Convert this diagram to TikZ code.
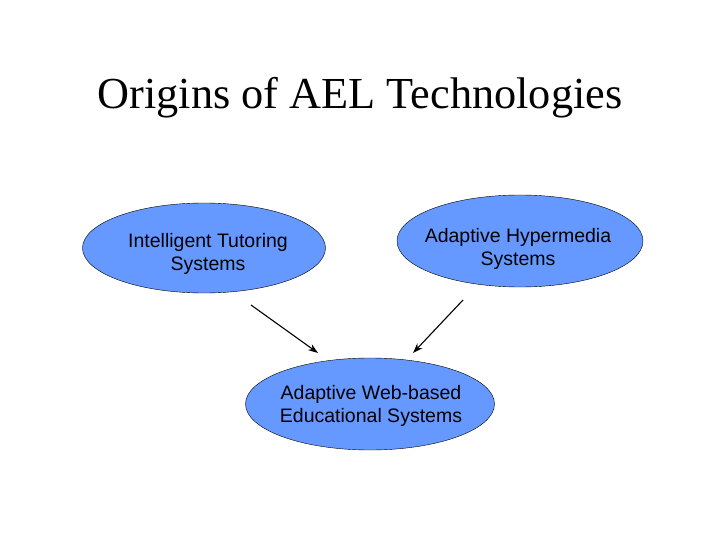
\documentclass[tikz,border=0pt]{standalone}
\usepackage{fontspec}
\setmainfont{Liberation Serif}
\setsansfont{Liberation Sans}
\usetikzlibrary{shapes.geometric,arrows.meta}
\definecolor{ovalblue}{RGB}{102,153,255}

\begin{document}
\begin{tikzpicture}[
    x=1pt, y=-1pt,
    origin/.style={ellipse,draw=black,fill=ovalblue,inner sep=0pt},
    ovaltext/.style={align=center,inner sep=0pt,font=\sffamily\fontsize{19.5}{23}\selectfont},
    trans/.style={line width=1.1pt,->,>={Stealth[length=10pt,width=7pt]}}
    ]
    \useasboundingbox (0,0) rectangle (720,540);
    \node[anchor=base] (title) at (360,109) {\fontsize{44.3}{48}\selectfont Origins of AEL Technologies};
    % the three ovals
    \node[origin,minimum width=243pt,minimum height=90pt] (its) at (204,248) {};
    \node[origin,minimum width=246pt,minimum height=92pt] (ahs) at (520,241) {};
    \node[origin,minimum width=249pt,minimum height=92pt] (awbes) at (370,404) {};
    \node[ovaltext] (itslabel) at (208,254) {Intelligent Tutoring\\Systems};
    \node[ovaltext] (ahslabel) at (518,249) {Adaptive Hypermedia\\Systems};
    \node[ovaltext] (awbeslabel) at (371,406) {Adaptive Web-based\\Educational Systems};
    % arrows
    \coordinate (itsout) at (251,305);
    \coordinate (ahsout) at (463,300);
    \coordinate (awbesinl) at (318,353);
    \coordinate (awbesinr) at (413,353);
    \draw[trans] (itsout) -- (awbesinl);
    \draw[trans] (ahsout) -- (awbesinr);
  \end{tikzpicture}
\end{document}
